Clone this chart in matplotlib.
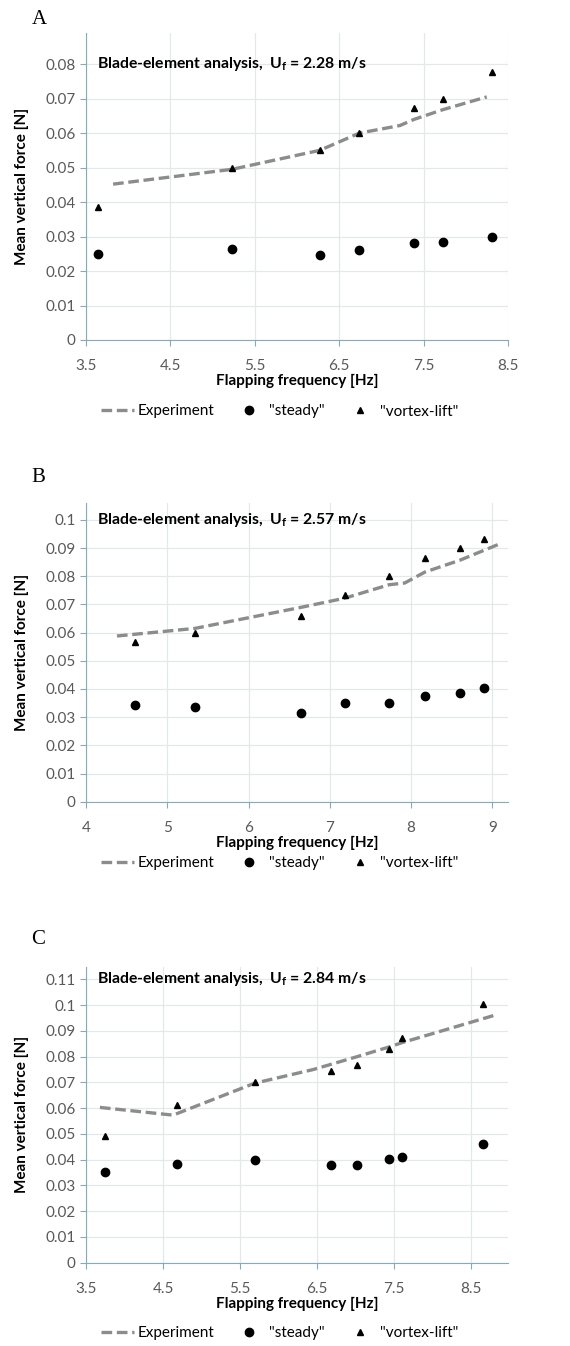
import matplotlib.pyplot as plt
import numpy as np

""" Data read off the figure """

# panel A, U_f = 2.28 m/s
freq_a = [3.64, 5.23, 6.27, 6.74, 7.39, 7.73, 8.31]
steady_a = [0.0248, 0.0263, 0.0246, 0.0260, 0.0280, 0.0283, 0.0300]
vortex_a = [0.0386, 0.0500, 0.0550, 0.0600, 0.0672, 0.0700, 0.0778]
exp_freq_a = [3.82, 5.23, 6.27, 6.74, 7.22, 7.39, 7.73, 8.25]
exp_a = [0.0452, 0.0495, 0.0550, 0.0600, 0.0622, 0.0640, 0.0668, 0.0705]

# panel B, U_f = 2.57 m/s
freq_b = [4.60, 5.34, 6.65, 7.18, 7.73, 8.17, 8.60, 8.90]
steady_b = [0.0342, 0.0335, 0.0313, 0.0349, 0.0351, 0.0375, 0.0387, 0.0404]
vortex_b = [0.0567, 0.0600, 0.0659, 0.0733, 0.0800, 0.0865, 0.0900, 0.0934]
exp_freq_b = [4.38, 5.34, 6.65, 7.18, 7.73, 7.92, 8.17, 8.60, 9.09]
exp_b = [0.0588, 0.0615, 0.0690, 0.0722, 0.0770, 0.0776, 0.0815, 0.0857, 0.0915]

# panel C, U_f = 2.84 m/s
freq_c = [3.75, 4.68, 5.69, 6.68, 7.02, 7.44, 7.61, 8.66]
steady_c = [0.0354, 0.0383, 0.0400, 0.0380, 0.0381, 0.0403, 0.0412, 0.0462]
vortex_c = [0.0493, 0.0614, 0.0700, 0.0743, 0.0767, 0.0830, 0.0873, 0.1005]
exp_freq_c = [3.68, 4.63, 5.69, 6.45, 7.02, 7.44, 7.61, 8.82]
exp_c = [0.0603, 0.0573, 0.0697, 0.0750, 0.0800, 0.0838, 0.0855, 0.0962]

speeds = ['2.28', '2.57', '2.84']
letters = ['A', 'B', 'C']

plt.rcParams['font.family'] = ['Lato', 'DejaVu Sans']

AXC = '#86aab8'
GRIDC = '#e3e8eb'
TICKC = '#595959'
H = 1346.0


def draw_panel(fig, rect, letter, letter_y, speed, freq, steady, vortex,
               exp_freq, exp, xlim, xticks, ylim, yticks, legend_y):
    ax = fig.add_axes(rect)
    ax.plot(exp_freq, exp, color='#8c8c8c', lw=2.4, dashes=(3.2, 1.4),
            label='Experiment', zorder=3)
    ax.plot(freq, steady, 'o', color='black', ms=6, label='"steady"', zorder=4)
    ax.plot(freq, vortex, '^', color='black', ms=4.5, label='"vortex-lift"', zorder=4)
    ax.set_xlim(xlim)
    ax.set_ylim(ylim)
    ax.set_xticks(xticks)
    ax.set_yticks(yticks)
    ax.set_xticklabels([('%g' % t) for t in xticks])
    ax.set_yticklabels([('%g' % t) for t in yticks])
    ax.grid(True, color=GRIDC, lw=0.9)
    ax.set_axisbelow(True)
    ax.spines['right'].set_visible(False)
    ax.spines['top'].set_visible(False)
    ax.spines['left'].set_color(AXC)
    ax.spines['bottom'].set_color(AXC)
    ax.tick_params(axis='both', colors=AXC, labelcolor=TICKC, labelsize=11,
                   length=4, direction='out')
    ax.tick_params(axis='x', pad=10)
    ax.set_xlabel('Flapping frequency [Hz]', fontsize=11, fontweight='bold',
                  labelpad=0.5)
    ax.set_ylabel('Mean vertical force [N]', fontsize=11, fontweight='bold',
                  labelpad=12)
    ax.text(0.026, yticks[-1], 'Blade-element analysis,  U$_\\mathregular{f}$ = ' + speed + ' m/s',
            transform=ax.get_yaxis_transform(), fontsize=11.3, fontweight='bold',
            va='center', ha='left')
    fig.text(0.055, 1 - letter_y / H, letter, fontsize=15,
             family='Liberation Serif', va='center')
    ax.legend(loc='center', bbox_to_anchor=(0.49, legend_y),
              bbox_transform=fig.transFigure, ncol=3, frameon=False,
              fontsize=11, handlelength=2.2, columnspacing=1.2,
              handletextpad=0.2, numpoints=1)
    return ax


fig = plt.figure(figsize=(5.7, 13.46), dpi=100)

draw_panel(fig, [0.151, 0.7474, 0.740, 0.228], letters[0], 20, speeds[0],
           freq_a, steady_a, vortex_a, exp_freq_a, exp_a,
           (3.5, 8.5), [3.5, 4.5, 5.5, 6.5, 7.5, 8.5], (0, 0.089),
           [0, 0.01, 0.02, 0.03, 0.04, 0.05, 0.06, 0.07, 0.08], 1 - 411.5 / H)

draw_panel(fig, [0.151, 0.4044, 0.740, 0.2219], letters[1], 477, speeds[1],
           freq_b, steady_b, vortex_b, exp_freq_b, exp_b,
           (4, 9.19), [4, 5, 6, 7, 8, 9], (0, 0.106),
           [0, 0.01, 0.02, 0.03, 0.04, 0.05, 0.06, 0.07, 0.08, 0.09, 0.1],
           1 - 863 / H)

draw_panel(fig, [0.151, 0.0619, 0.740, 0.220], letters[2], 940, speeds[2],
           freq_c, steady_c, vortex_c, exp_freq_c, exp_c,
           (3.5, 8.98), [3.5, 4.5, 5.5, 6.5, 7.5, 8.5], (0, 0.115),
           [0, 0.01, 0.02, 0.03, 0.04, 0.05, 0.06, 0.07, 0.08, 0.09, 0.1, 0.11],
           1 - 1333 / H)

plt.savefig('out.png', dpi=100)
